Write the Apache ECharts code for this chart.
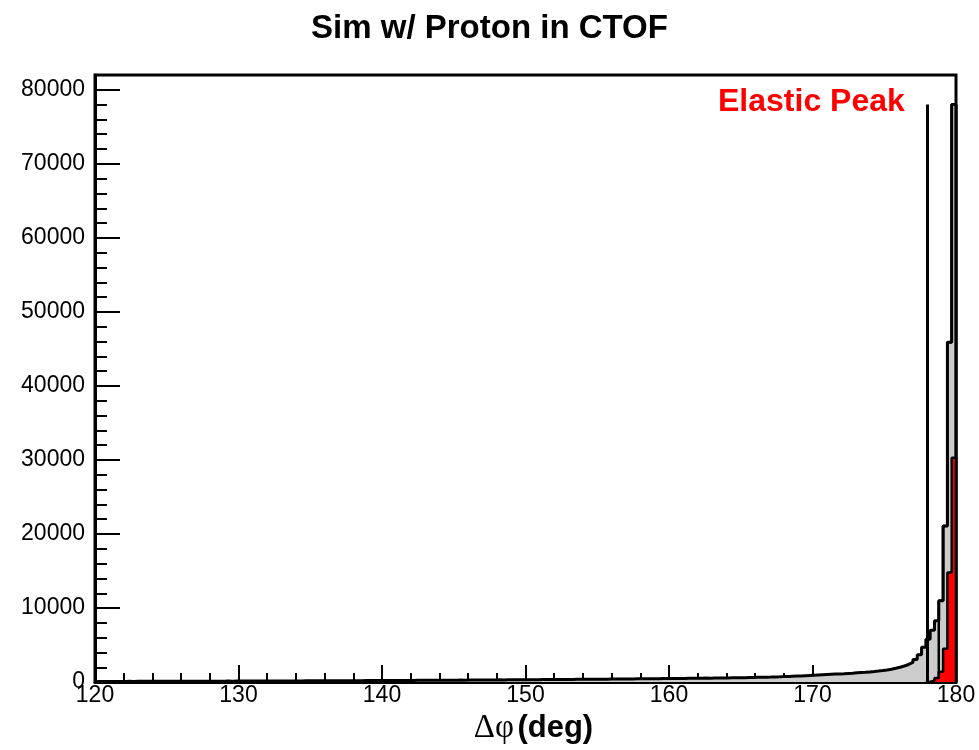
<!DOCTYPE html>
<html><head><meta charset="utf-8">
<script src="https://cdn.jsdelivr.net/npm/echarts@6/dist/echarts.min.js"></script>
<style>html,body{margin:0;padding:0;background:#fff}#c{width:979px;height:750px}</style>
</head><body><div id="c"></div>
<script>
// Histogram binning (deg)
const BIN_START = 120;
const BIN_WIDTH = 0.3;
const X_MIN = 120, X_MAX = 180;

// All events (gray filled), 200 bins of 0.3 deg from 120 to 180
const allCounts = [
  88, 92, 85, 95, 90, 97, 93, 99, 96, 101,
  98, 104, 102, 107, 105, 110, 108, 113, 111, 116,
  114, 118, 121, 119, 124, 122, 127, 125, 130, 128,
  133, 131, 136, 139, 137, 142, 140, 145, 148, 146,
  151, 149, 154, 158, 156, 161, 165, 163, 168, 171,
  169, 175, 178, 176, 182, 185, 183, 189, 192, 190,
  196, 199, 203, 201, 207, 211, 209, 215, 218, 222,
  220, 226, 230, 228, 234, 238, 242, 240, 246, 251,
  255, 253, 260, 264, 268, 266, 273, 278, 282, 280,
  287, 292, 296, 301, 299, 306, 311, 316, 314, 321,
  327, 332, 330, 337, 343, 348, 346, 353, 359, 364,
  362, 370, 376, 381, 379, 388, 394, 400, 398, 407,
  413, 420, 418, 427, 434, 441, 439, 448, 455, 463,
  461, 470, 478, 486, 484, 494, 502, 511, 509, 519,
  528, 537, 535, 546, 556, 566, 564, 575, 586, 597,
  600, 615, 630, 645, 650, 668, 685, 703, 720, 740,
  765, 790, 815, 840, 870, 900, 930, 960, 990, 1020,
  1050, 1080, 1110, 1140, 1175, 1210, 1250, 1290, 1330, 1380,
  1430, 1490, 1560, 1640, 1740, 1860, 2000, 2170, 2380, 2650,
  3050, 3700, 4700, 5800, 7000, 8300, 11000, 21100, 45900, 78000
];

// Inner black-outline histogram (starts at 178.8 deg)
const innerStart = 178.8;
const innerCounts = [11000, 21100, 45900, 78000];

// Elastic peak (red filled), starts at 177.9 deg
const redStart = 177.9;
const redCounts = [60, 200, 550, 1400, 4500, 14800, 30300];

// Cut line
const cutX = 178;
const cutTop = 78000;

// Axis ticks
const xTicks = [120, 130, 140, 150, 160, 170, 180];
const yTicks = [0, 10000, 20000, 30000, 40000, 50000, 60000, 70000, 80000];

function r1(v){ return Math.round(v*10)/10; }
function histPoints(start, counts){
  const pts = [[r1(start), 0]];
  for (let i = 0; i < counts.length; i++) pts.push([r1(start + i*BIN_WIDTH), counts[i]]);
  const end = r1(start + counts.length*BIN_WIDTH);
  pts.push([end, counts[counts.length-1]]);
  pts.push([end, 0]);
  return pts;
}

const chart = echarts.init(document.getElementById('c'), null, {renderer:'canvas'});
const FONT = '"Liberation Sans", Arial, Helvetica, sans-serif';
chart.setOption({
  animation: false,
  backgroundColor: '#fff',
  title: {
    text: 'Sim w/ Proton in CTOF', left: 'center', top: 7,
    textStyle: {fontSize: 33, fontWeight: 'bold', fontFamily: FONT, color: '#000'}
  },
  grid: {left: 95, right: 23, top: 75, bottom: 67, show: true, borderColor: '#000', borderWidth: 3, backgroundColor: 'transparent'},
  xAxis: {
    type: 'value', min: X_MIN, max: X_MAX, interval: 10,
    axisLine: {lineStyle: {color: '#000', width: 3}},
    axisTick: {inside: true, length: 17, lineStyle: {color: '#000', width: 2}},
    minorTick: {show: true, splitNumber: 5, length: 9, lineStyle: {color: '#000', width: 2}},
    splitLine: {show: false},
    axisLabel: {fontSize: 23, color: '#000', fontFamily: FONT, margin: 2,
      formatter: v => xTicks.includes(v) ? String(v) : ''},
    name: '{a|Δφ} {b|(deg)}', nameLocation: 'middle', nameGap: 25,
    nameTextStyle: {rich: {
      a: {fontSize: 33, fontFamily: '"Liberation Serif", "DejaVu Serif", serif', color: '#000'},
      b: {fontSize: 31, fontWeight: 'bold', fontFamily: FONT, color: '#000'}
    }, padding: [0, 0, 0, 16]}
  },
  yAxis: [{
    type: 'value', min: 0, max: 82000, interval: 10000,
    axisLine: {lineStyle: {color: '#000', width: 3}},
    axisTick: {inside: true, length: 25, lineStyle: {color: '#000', width: 2}},
    splitLine: {show: false},
    axisLabel: {fontSize: 23, color: '#000', fontFamily: FONT, margin: 10, showMaxLabel: false,
      formatter: v => yTicks.includes(v) ? String(v) : ''}
  }, {
    type: 'value', min: 0, max: 82000, interval: 2000, position: 'left', offset: 0,
    axisLine: {show: false},
    axisTick: {inside: true, length: 12, lineStyle: {color: '#000', width: 2}},
    splitLine: {show: false},
    axisLabel: {show: false}
  }],
  series: [
    {
      type: 'line', step: 'end', data: histPoints(BIN_START, allCounts), yAxisIndex: 0,
      showSymbol: false, symbol: 'none', silent: true,
      lineStyle: {color: '#000', width: 3},
      areaStyle: {color: '#cccccc', opacity: 1},
      z: 2
    },
    {
      type: 'line', data: [], yAxisIndex: 0, silent: true,
      markLine: {
        silent: true, symbol: ['none', 'none'], label: {show: false},
        lineStyle: {color: '#000', width: 3, type: 'solid'},
        data: [[{coord: [cutX, 0]}, {coord: [cutX, cutTop]}]]
      },
      z: 3
    },
    {
      type: 'line', step: 'end', data: histPoints(innerStart, innerCounts), yAxisIndex: 0,
      showSymbol: false, symbol: 'none', silent: true,
      lineStyle: {color: '#000', width: 2.5},
      z: 4
    },
    {
      type: 'line', step: 'end', data: histPoints(redStart, redCounts), yAxisIndex: 0,
      showSymbol: false, symbol: 'none', silent: true,
      lineStyle: {color: '#000', width: 2.5},
      areaStyle: {color: '#ff0000', opacity: 1},
      z: 5
    }
  ],
  graphic: [{
    type: 'text', left: 718, top: 86, z: 10,
    style: {text: 'Elastic Peak', fill: '#ff0000', font: 'bold 32px ' + FONT}
  }]
});
</script>
</body></html>
